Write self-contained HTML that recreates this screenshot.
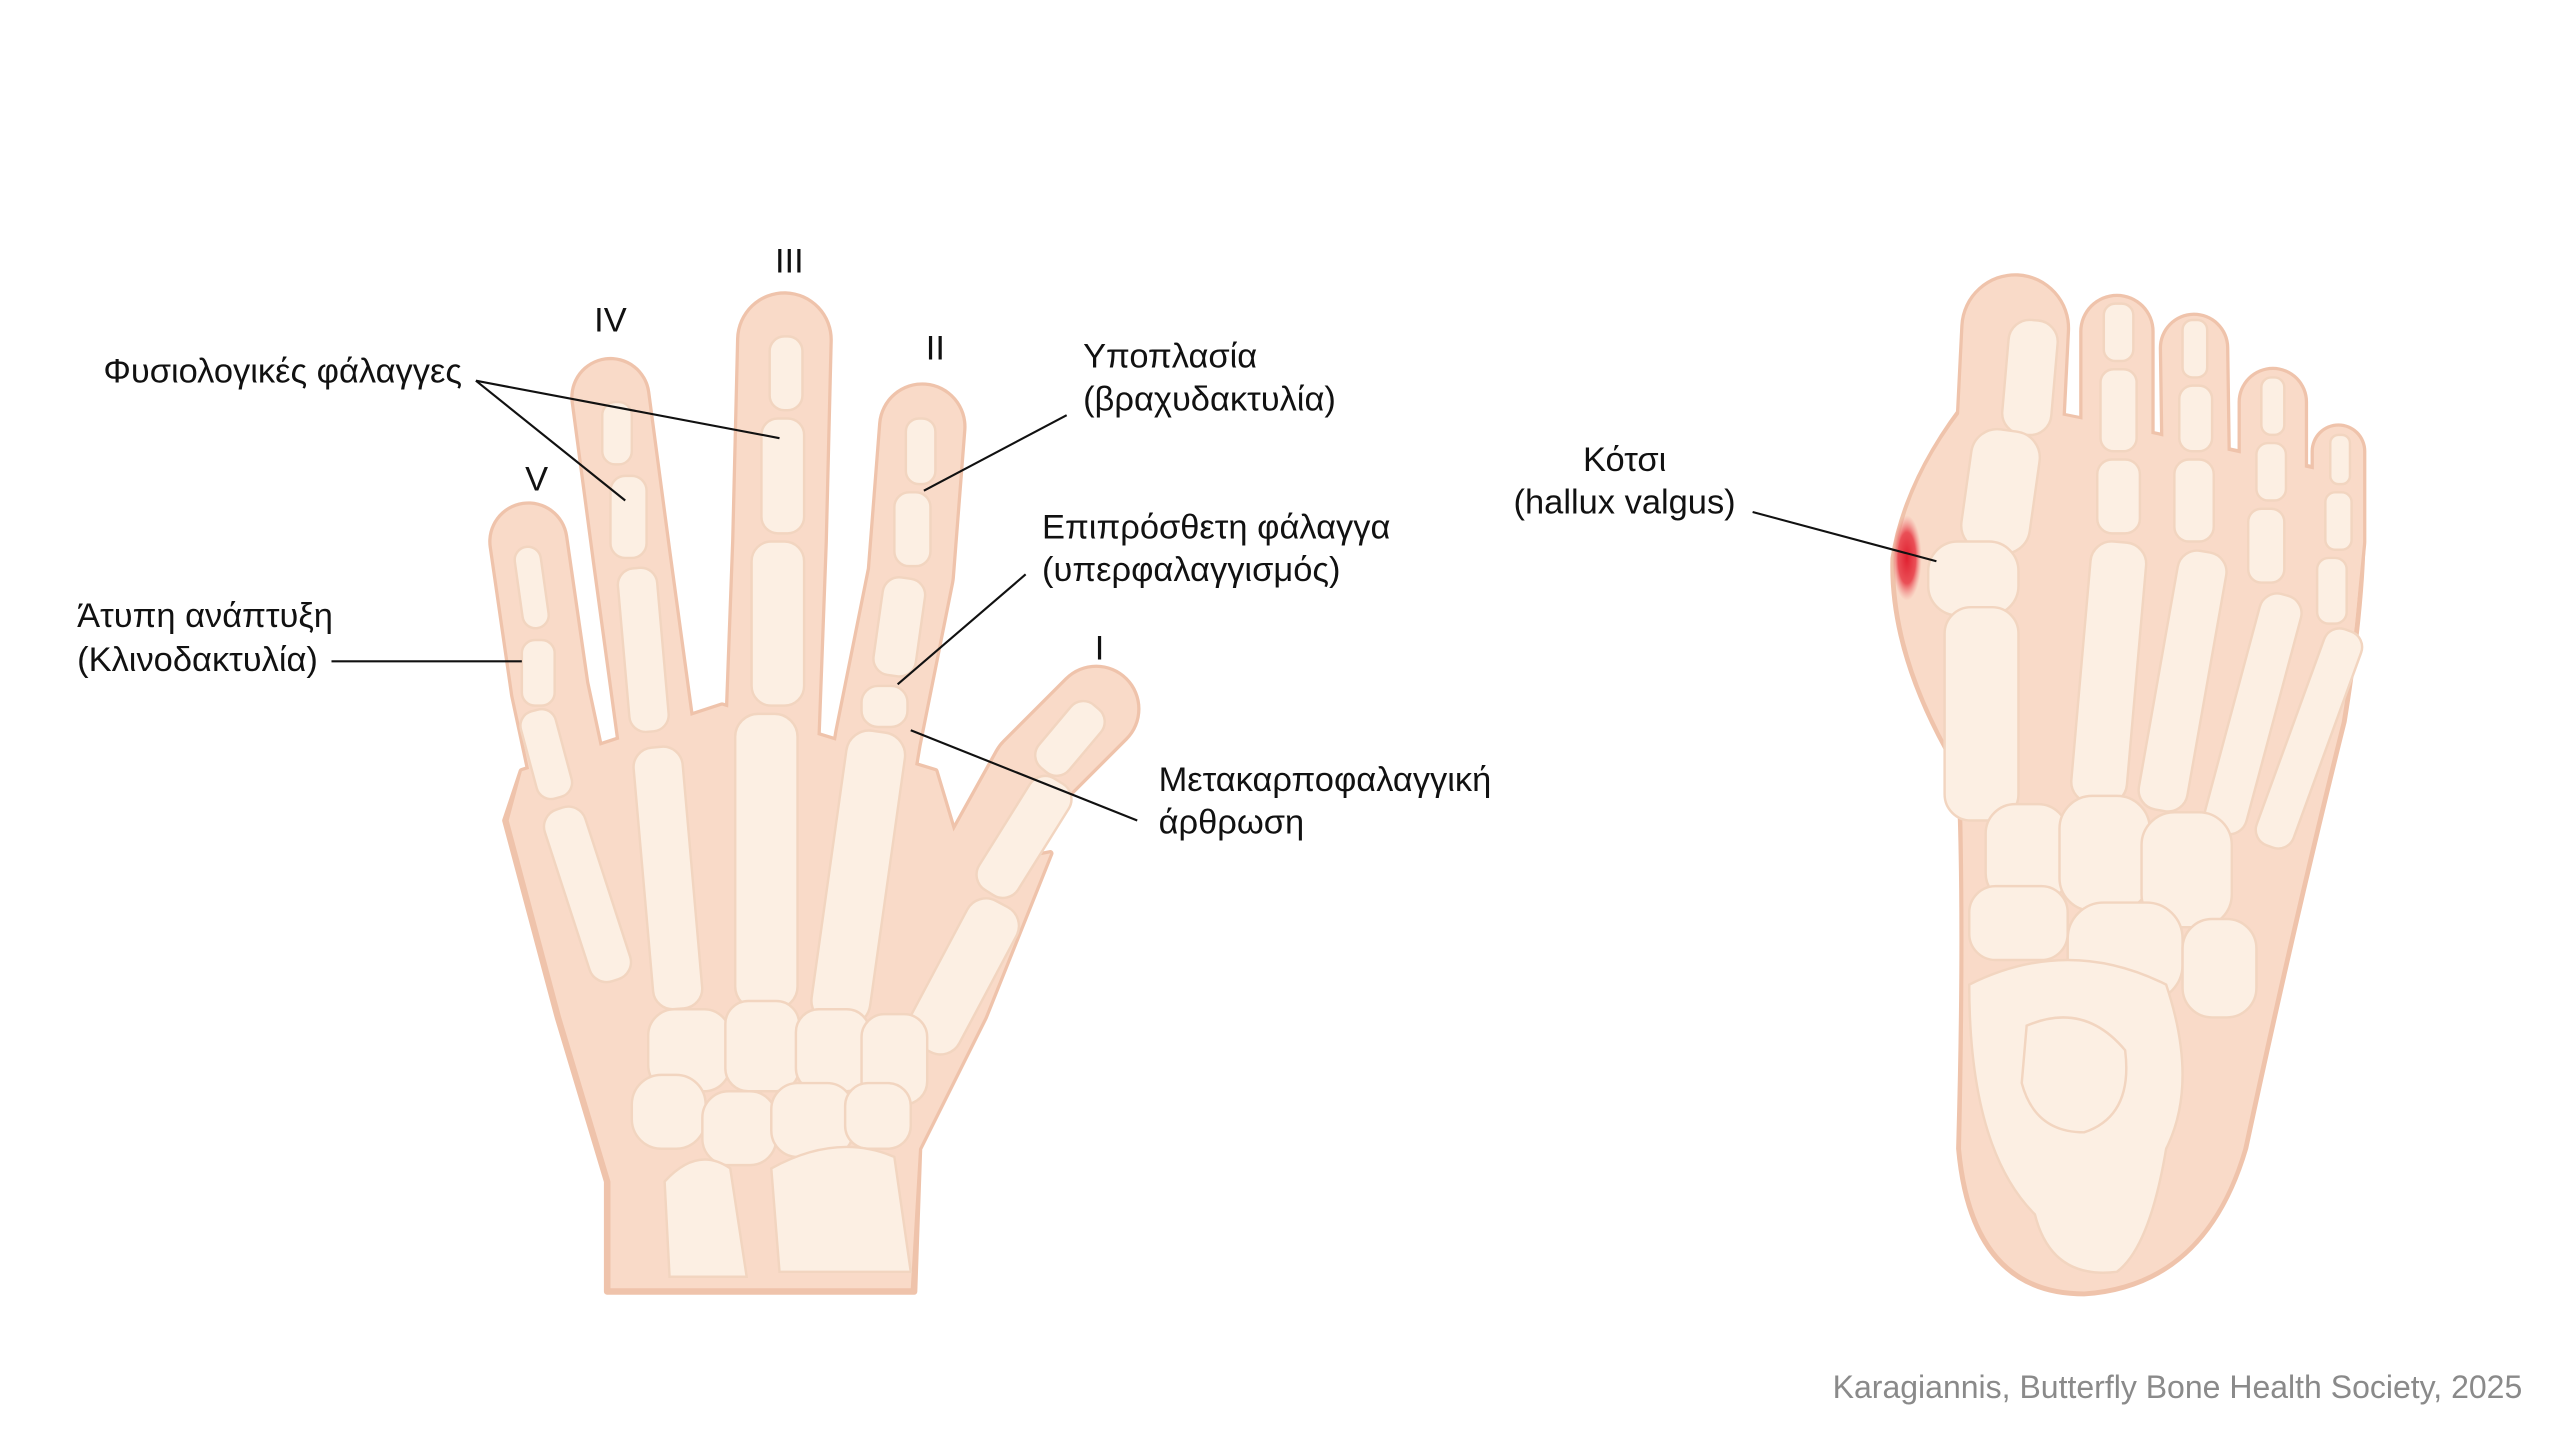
<!DOCTYPE html>
<html><head><meta charset="utf-8"><style>
html,body{margin:0;padding:0;background:#fff;}
svg{display:block;}
text{font-family:"Liberation Sans",Arial,sans-serif;fill:#111;font-size:21px;}
</style></head><body>
<svg width="2560" height="1440" viewBox="0 0 1560 877.5" xmlns="http://www.w3.org/2000/svg">
<defs>
<radialGradient id="red" cx="0.5" cy="0.5" r="0.5"><stop offset="0" stop-color="#e02030"/><stop offset="0.6" stop-color="#e8404a" stop-opacity="0.9"/><stop offset="1" stop-color="#f08080" stop-opacity="0"/></radialGradient>
</defs>
<g fill="none" stroke="#efc3ab" stroke-linecap="round" stroke-linejoin="round">
 <polyline points="322,330 335,420 365,560" stroke-width="49"/>
 <polyline points="372,242 385,340 400,450 410,580" stroke-width="49"/>
 <polyline points="478,207 475,330 465,600" stroke-width="59"/>
 <polyline points="562,260 555,350 535,450 510,600" stroke-width="54"/>
 <polyline points="668,432 630,470 580,560 540,650" stroke-width="54"/>
</g>
<polygon points="318,470 440,430 570,470 588,530 640,520 600,620 560,700 557,787 370,787 370,720 340,620 308,500" fill="#efc3ab" stroke="#efc3ab" stroke-width="4" stroke-linejoin="round"/>
<g fill="none" stroke="#f9dac8" stroke-linecap="round" stroke-linejoin="round">
 <polyline points="322,330 335,420 365,560" stroke-width="45"/>
 <polyline points="372,242 385,340 400,450 410,580" stroke-width="45"/>
 <polyline points="478,207 475,330 465,600" stroke-width="55"/>
 <polyline points="562,260 555,350 535,450 510,600" stroke-width="50"/>
 <polyline points="668,432 630,470 580,560 540,650" stroke-width="50"/>
</g>
<polygon points="318,470 440,430 570,470 588,530 640,520 600,620 560,700 555,785 372,785 372,720 342,620 310,500" fill="#f9dac8"/>
<g stroke="#f2d5c0" stroke-width="1.5" fill="#fcefe3">
 <rect x="316" y="333" width="16" height="50" rx="8" transform="rotate(-8 324 358)"/>
 <rect x="318" y="390" width="20" height="40" rx="8"/>
 <rect x="322" y="432" width="22" height="55" rx="9" transform="rotate(-15 333 460)"/>
 <rect x="345" y="490" width="26" height="110" rx="11" transform="rotate(-18 358 545)"/>
 <rect x="367" y="245" width="18" height="38" rx="8"/>
 <rect x="372" y="290" width="22" height="50" rx="9"/>
 <rect x="380" y="346" width="24" height="100" rx="10" transform="rotate(-5 392 396)"/>
 <rect x="392" y="455" width="30" height="160" rx="12" transform="rotate(-5 407 535)"/>
 <rect x="469" y="205" width="20" height="45" rx="9"/>
 <rect x="464" y="255" width="26" height="70" rx="10"/>
 <rect x="458" y="330" width="32" height="100" rx="12"/>
 <rect x="448" y="435" width="38" height="180" rx="14"/>
 <rect x="552" y="255" width="18" height="40" rx="8"/>
 <rect x="545" y="300" width="22" height="45" rx="9"/>
 <rect x="535" y="352" width="26" height="60" rx="10" transform="rotate(8 548 382)"/>
 <rect x="525" y="418" width="28" height="25" rx="10"/>
 <rect x="505" y="445" width="36" height="180" rx="14" transform="rotate(8 523 535)"/>
 <rect x="640" y="425" width="24" height="50" rx="10" transform="rotate(40 652 450)"/>
 <rect x="610" y="470" width="28" height="80" rx="11" transform="rotate(32 624 510)"/>
 <rect x="570" y="545" width="34" height="100" rx="13" transform="rotate(28 587 595)"/>
 <rect x="395" y="615" width="50" height="50" rx="16"/>
 <rect x="442" y="610" width="45" height="55" rx="14"/>
 <rect x="485" y="615" width="45" height="50" rx="14"/>
 <rect x="525" y="618" width="40" height="55" rx="14"/>
 <rect x="385" y="655" width="45" height="45" rx="18"/>
 <rect x="428" y="665" width="45" height="45" rx="16"/>
 <rect x="470" y="660" width="50" height="45" rx="16"/>
 <rect x="515" y="660" width="40" height="40" rx="14"/>
 <path d="M405,720 Q425,698 445,712 L455,778 L408,778 Z"/>
 <path d="M470,712 Q510,690 545,705 L555,775 L475,775 Z"/>
</g>
<g fill="none" stroke="#efc3ab" stroke-linecap="round" stroke-linejoin="round">
 <polyline points="1228,200 1225,260 1215,320" stroke-width="67"/>
 <polyline points="1290,202 1290,270 1290,330" stroke-width="46"/>
 <polyline points="1337,212 1338,280 1335,340" stroke-width="43"/>
 <polyline points="1385,245 1385,300 1380,350" stroke-width="43"/>
 <polyline points="1425,275 1425,330 1420,380" stroke-width="34"/>
</g>
<path d="M1200,240 Q1160,290 1152,340 Q1150,400 1192,470 Q1196,560 1192,700 Q1200,790 1270,790 Q1345,785 1370,700 Q1400,560 1430,440 Q1446,340 1440,290 L1300,260 Z" fill="#efc3ab"/>
<g fill="none" stroke="#f9dac8" stroke-linecap="round" stroke-linejoin="round">
 <polyline points="1228,200 1225,260 1215,320" stroke-width="63"/>
 <polyline points="1290,202 1290,270 1290,330" stroke-width="42"/>
 <polyline points="1337,212 1338,280 1335,340" stroke-width="39"/>
 <polyline points="1385,245 1385,300 1380,350" stroke-width="39"/>
 <polyline points="1425,275 1425,330 1420,380" stroke-width="30"/>
</g>
<path d="M1202,242 Q1162,290 1155,340 Q1153,400 1195,470 Q1198,560 1195,700 Q1203,787 1270,787 Q1343,782 1367,700 Q1397,560 1427,440 Q1443,340 1437,292 L1300,262 Z" fill="#f9dac8"/>
<ellipse cx="1162" cy="340" rx="9" ry="26" fill="url(#red)"/>
<g stroke="#f2d5c0" stroke-width="1.5" fill="#fcefe3">
 <rect x="1222" y="195" width="30" height="70" rx="13" transform="rotate(5 1237 230)"/>
 <rect x="1198" y="262" width="42" height="75" rx="16" transform="rotate(8 1219 300)"/>
 <rect x="1175" y="330" width="55" height="45" rx="18"/>
 <rect x="1185" y="370" width="45" height="130" rx="16"/>
 <rect x="1282" y="185" width="18" height="35" rx="7"/>
 <rect x="1280" y="225" width="22" height="50" rx="8"/>
 <rect x="1278" y="280" width="26" height="45" rx="9"/>
 <rect x="1268" y="330" width="34" height="160" rx="13" transform="rotate(5 1285 410)"/>
 <rect x="1330" y="195" width="15" height="35" rx="6"/>
 <rect x="1328" y="235" width="20" height="40" rx="8"/>
 <rect x="1325" y="280" width="24" height="50" rx="9"/>
 <rect x="1315" y="335" width="30" height="160" rx="12" transform="rotate(10 1330 415)"/>
 <rect x="1378" y="230" width="14" height="35" rx="6"/>
 <rect x="1375" y="270" width="18" height="35" rx="7"/>
 <rect x="1370" y="310" width="22" height="45" rx="8"/>
 <rect x="1360" y="360" width="26" height="150" rx="11" transform="rotate(15 1373 435)"/>
 <rect x="1420" y="265" width="12" height="30" rx="5"/>
 <rect x="1417" y="300" width="16" height="35" rx="6"/>
 <rect x="1412" y="340" width="18" height="40" rx="7"/>
 <rect x="1395" y="380" width="24" height="140" rx="10" transform="rotate(20 1407 450)"/>
 <rect x="1210" y="490" width="50" height="60" rx="18"/>
 <rect x="1255" y="485" width="55" height="70" rx="20"/>
 <rect x="1305" y="495" width="55" height="70" rx="20"/>
 <rect x="1200" y="540" width="60" height="45" rx="16"/>
 <rect x="1260" y="550" width="70" height="60" rx="22"/>
 <rect x="1330" y="560" width="45" height="60" rx="18"/>
 <path d="M1200,600 Q1260,570 1320,600 Q1340,660 1320,700 Q1310,760 1290,775 Q1250,780 1240,740 Q1200,700 1200,600 Z"/>
 <path d="M1235,625 Q1270,610 1295,640 Q1300,680 1270,690 Q1240,690 1232,660 Z"/>
</g>
<g stroke="#111" stroke-width="1.3" fill="none">
 <line x1="290" y1="232" x2="475" y2="267"/>
 <line x1="290" y1="232" x2="381" y2="305"/>
 <line x1="650" y1="253" x2="563" y2="299"/>
 <line x1="625" y1="350" x2="547" y2="417"/>
 <line x1="693" y1="500" x2="555" y2="445"/>
 <line x1="202" y1="403" x2="318" y2="403"/>
 <line x1="1068" y1="312" x2="1180" y2="342"/>
</g>
<text x="63" y="233">Φυσιολογικές φάλαγγες</text>
<text x="660" y="224">Υποπλασία</text>
<text x="660" y="250">(βραχυδακτυλία)</text>
<text x="635" y="328">Επιπρόσθετη φάλαγγα</text>
<text x="635" y="354">(υπερφαλαγγισμός)</text>
<text x="706" y="482">Μετακαρποφαλαγγική</text>
<text x="706" y="508">άρθρωση</text>
<text x="47" y="382">Άτυπη ανάπτυξη</text>
<text x="47" y="409">(Κλινοδακτυλία)</text>
<g text-anchor="middle">
 <text x="481" y="166">III</text>
 <text x="372" y="202">IV</text>
 <text x="570" y="219">II</text>
 <text x="327" y="299">V</text>
 <text x="670" y="402">I</text>
 <text x="990" y="287">Κότσι</text>
 <text x="990" y="313">(hallux valgus)</text>
</g>
<text x="1537" y="852" text-anchor="end" style="fill:#8a8a8a;font-size:19.5px">Karagiannis, Butterfly Bone Health Society, 2025</text>
</svg>
</body></html>
